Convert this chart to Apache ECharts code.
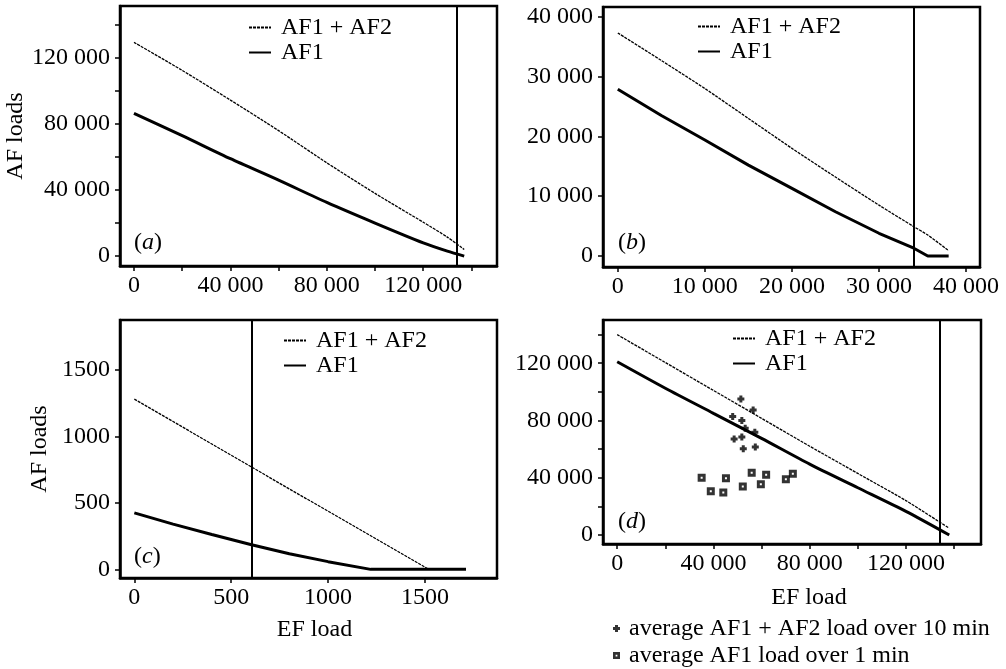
<!DOCTYPE html>
<html>
<head>
<meta charset="utf-8">
<script src="https://cdn.jsdelivr.net/npm/echarts@6/dist/echarts.min.js"></script>
<style>
html,body{margin:0;padding:0;background:#fff;}
#chart{width:1006px;height:669px;}
</style>
</head>
<body>
<div id="chart"></div>
<script>
// ---------- data ----------
// panel (a)
const aX    = [0, 20000, 40000, 60000, 80000, 100000, 120000, 130000, 137000];
const aSum  = [129500, 112500, 94500, 76000, 56500, 38000, 20500, 11500, 4000];
const aAF1  = [86500, 73000, 59000, 46000, 32500, 20000, 8000, 3000, 0];
const aLimit = 134000;
// panel (b)
const bX    = [0, 5000, 10000, 15000, 20000, 25000, 30000, 34000, 35600, 38000];
const bSum  = [37300, 32700, 28000, 23000, 18000, 13200, 8500, 4900, 3500, 900];
const bAF1  = [27900, 23500, 19400, 15200, 11300, 7400, 3800, 1300, 0, 0];
const bLimit = 34000;
// panel (c)
const cX    = [0, 200, 400, 605, 800, 1000, 1220, 1520, 1712];
const cSum  = [1281, 1112, 943, 770, 605, 438, 253, 0, 0];
const cAF1  = [425, 340, 262, 185, 118, 58, 0, 0, 0];
const cLimit = 605;
// panel (d)
const dX    = [0, 20000, 40000, 60000, 80000, 100000, 120000, 138000];
const dSum  = [140000, 120500, 101000, 81500, 62000, 43000, 24000, 4700];
const dAF1  = [121000, 102500, 85000, 67500, 49500, 33000, 16500, 0];
const dLimit = 134000;
// measured points in (d)
const plusX = [51400, 56500, 48000, 51800, 53200, 57200, 48600, 51800, 52400, 57400];
const plusY = [95000, 87400, 82700, 79900, 74600, 71800, 67100, 68500, 60300, 61500];
const sqX   = [35100, 45200, 55900, 61900, 70100, 73000, 38900, 44100, 52200, 59700];
const sqY   = [40000, 39600, 43500, 42100, 38900, 42800, 30500, 29600, 33800, 35400];

// tick positions and labels
const aXTicks = [0, 20000, 40000, 60000, 80000, 100000, 120000, 140000];
const aXLabels = [0, 40000, 80000, 120000];
const aYTicks = [0, 20000, 40000, 60000, 80000, 100000, 120000, 140000];
const aYLabels = [0, 40000, 80000, 120000];
const bXTicks = [0, 10000, 20000, 30000, 40000];
const bYTicks = [0, 10000, 20000, 30000, 40000];
const cXTicks = [0, 500, 1000, 1500];
const cYTicks = [0, 500, 1000, 1500];
const dXTicks = [0, 20000, 40000, 60000, 80000, 100000, 120000, 140000];
const dXLabels = [0, 40000, 80000, 120000];
const dYTicks = [0, 20000, 40000, 60000, 80000, 100000, 120000, 140000];
const dYLabels = [0, 40000, 80000, 120000];

const SUM = 'AF1 + AF2', ONE = 'AF1';
const LEG1 = 'average AF1 + AF2 load over 10 min';
const LEG2 = 'average AF1 load over 1 min';

// ---------- helpers ----------
const FONT = '"Liberation Serif", "DejaVu Serif", serif';
const FS = 24;
const zip = (xs, ys) => xs.map((x, i) => [x, ys[i]]);
const fmt = v => v >= 10000 ? String(v).replace(/\B(?=(\d{3})+(?!\d))/g, ' ') : String(v);

function axis(type, gridIndex, min, max, ticks, labels, extra) {
  return Object.assign({
    type: 'value', gridIndex, min, max,
    axisLine: { show: true, onZero: false, lineStyle: { color: '#000', width: 2.5 } },
    axisTick: { show: true, inside: false, length: 5, customValues: ticks, lineStyle: { color: '#000', width: 1.5 } },
    axisLabel: { show: true, customValues: labels, formatter: fmt, color: '#000',
      fontFamily: FONT, fontSize: FS, margin: type === 'x' ? 8 : 10 },
    splitLine: { show: false },
    nameTextStyle: { fontFamily: FONT, fontSize: FS, color: '#000' }
  }, extra || {});
}

const sumStyle = { color: '#000', width: 1.3, type: [3, 1] };
const oneStyle = { color: '#000', width: 3 };

function lineSeries(name, idx, data, style, limit, smooth) {
  const s = {
    type: 'line', name, xAxisIndex: idx, yAxisIndex: idx, data,
    symbol: 'none', showSymbol: false, lineStyle: style, itemStyle: { color: style.color },
    smooth: smooth || false,
    silent: true, z: 3
  };
  if (limit !== undefined) {
    s.markLine = {
      silent: true, symbol: ['none', 'none'], label: { show: false },
      lineStyle: { color: '#000', width: 2, type: 'solid' },
      data: [{ xAxis: limit }], animation: false
    };
  }
  return s;
}

function lineLegend(left, top) {
  return {
    data: [SUM, ONE], left, top, orient: 'vertical', padding: 0,
    itemWidth: 22, itemHeight: 10, itemGap: 0, selectedMode: false,
    itemStyle: { opacity: 0 },
    textStyle: { fontFamily: FONT, fontSize: FS, color: '#000', lineHeight: 25, padding: [0, 0, 0, 5] }
  };
}

function panelLabel(letter, x, y) {
  return {
    type: 'text', left: x, top: y, silent: true,
    style: {
      text: '({i|' + letter + '})', fill: '#000',
      font: FS + 'px ' + FONT,
      rich: { i: { fontStyle: 'italic', fontFamily: FONT, fontSize: FS, fill: '#000' } }
    }
  };
}

const grids = [
  { left: 120, top: 6, width: 377, height: 260 },
  { left: 603, top: 7, width: 377, height: 260 },
  { left: 120, top: 320, width: 377, height: 258 },
  { left: 603, top: 320, width: 378, height: 224 }
].map(g => Object.assign(g, { show: true, borderColor: '#000', borderWidth: 2.5, backgroundColor: 'transparent', containLabel: false }));

const option = {
  animation: false,
  backgroundColor: '#fff',
  grid: grids,
  xAxis: [
    axis('x', 0, -5800, 150600, aXTicks, aXLabels),
    axis('x', 1, -1700, 41600, bXTicks, bXTicks),
    axis('x', 2, -74, 1872, cXTicks, cXTicks, { name: 'EF load', nameLocation: 'middle', nameGap: 40,
      nameTextStyle: { fontFamily: FONT, fontSize: FS, color: '#000', padding: [0, 0, 0, 12] } }),
    axis('x', 3, -5900, 151200, dXTicks, dXLabels, { name: 'EF load', nameLocation: 'middle', nameGap: 42,
      nameTextStyle: { fontFamily: FONT, fontSize: FS, color: '#000', padding: [0, 0, 0, 34] } })
  ],
  yAxis: [
    axis('y', 0, -6000, 151500, aYTicks, aYLabels, { name: 'AF loads', nameLocation: 'middle', nameGap: 91 }),
    axis('y', 1, -1840, 41640, bYTicks, bYTicks),
    axis('y', 2, -65, 1876, cYTicks, cYTicks, { name: 'AF loads', nameLocation: 'middle', nameGap: 68 }),
    axis('y', 3, -6300, 150200, dYTicks, dYLabels)
  ],
  legend: [
    lineLegend(248, 15),
    lineLegend(697, 14),
    lineLegend(283, 328),
    lineLegend(732, 326),
    {
      data: [LEG1, LEG2], left: 613, top: 616, orient: 'vertical', padding: 0,
      itemWidth: 7, itemHeight: 7, itemGap: 2, selectedMode: false,
      textStyle: { fontFamily: FONT, fontSize: FS, color: '#000', lineHeight: 25, padding: [0, 0, 0, 4] }
    }
  ],
  graphic: [
    panelLabel('a', 134, 231),
    panelLabel('b', 618, 231),
    panelLabel('c', 134, 545),
    panelLabel('d', 618, 510)
  ],
  series: [
    lineSeries(SUM, 0, zip(aX, aSum), sumStyle, undefined, 0.25),
    lineSeries(ONE, 0, zip(aX, aAF1), oneStyle, aLimit, 0.25),
    lineSeries(SUM, 1, zip(bX, bSum), sumStyle, undefined, 0.25),
    lineSeries(ONE, 1, zip(bX, bAF1), oneStyle, bLimit, false),
    lineSeries(SUM, 2, zip(cX, cSum), sumStyle, undefined, false),
    lineSeries(ONE, 2, zip(cX, cAF1), oneStyle, cLimit, false),
    lineSeries(SUM, 3, zip(dX, dSum), sumStyle, undefined, 0.25),
    lineSeries(ONE, 3, zip(dX, dAF1), oneStyle, dLimit, 0.25),
    {
      type: 'scatter', name: LEG1, xAxisIndex: 3, yAxisIndex: 3, data: zip(plusX, plusY),
      symbol: 'path://M2,0H5V2H7V5H5V7H2V5H0V2H2Z', symbolSize: 7,
      itemStyle: { color: '#000' }, silent: true, z: 4
    },
    {
      type: 'scatter', name: LEG2, xAxisIndex: 3, yAxisIndex: 3, data: zip(sqX, sqY),
      symbol: 'path://M0,0H8V8H0Z M3,3V5H5V3Z', symbolSize: 8,
      itemStyle: { color: '#000' }, silent: true, z: 4
    }
  ]
};

const chart = echarts.init(document.getElementById('chart'), null, { renderer: 'canvas' });
chart.setOption(option);
</script>
</body>
</html>
